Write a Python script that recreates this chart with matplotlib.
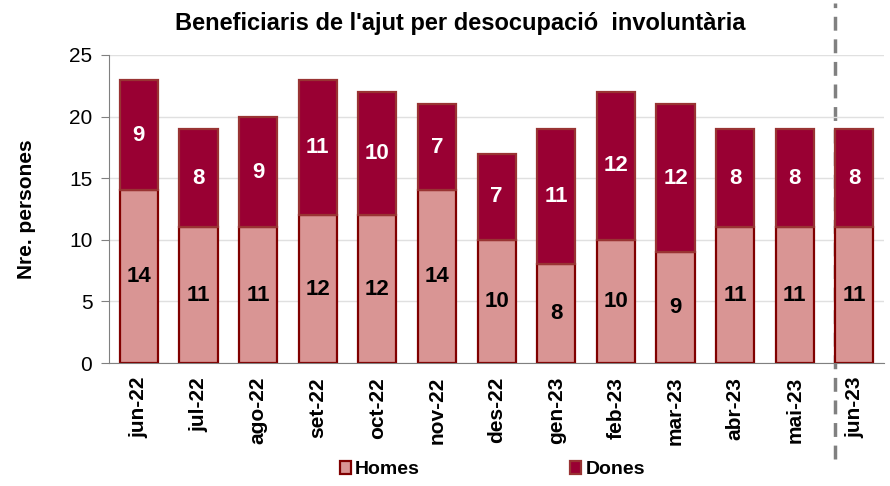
import numpy as np
import matplotlib.pyplot as plt
from matplotlib.lines import Line2D

months = ['jun-22', 'jul-22', 'ago-22', 'set-22', 'oct-22', 'nov-22', 'des-22',
          'gen-23', 'feb-23', 'mar-23', 'abr-23', 'mai-23', 'jun-23']
homes = [14, 11, 11, 12, 12, 14, 10, 8, 10, 9, 11, 11, 11]
dones = [9, 8, 9, 11, 10, 7, 7, 11, 12, 12, 8, 8, 8]

plt.rcParams['font.family'] = ['Liberation Sans', 'DejaVu Sans']

fig = plt.figure(figsize=(8.9, 4.86), dpi=100)
ax = fig.add_axes([0.1225, 0.253, 0.871, 0.634])

x = np.arange(len(months))
w = 0.64
ax.bar(x, homes, w, color='#D99594', edgecolor='#800000', linewidth=1.6,
       label='Homes', zorder=2)
ax.bar(x, dones, w, bottom=homes, color='#990033', edgecolor='#993333',
       linewidth=1.6, label='Dones', zorder=2)

for i in range(len(months)):
    ax.text(x[i], homes[i] / 2, str(homes[i]), ha='center', va='center',
            fontsize=16, fontweight='bold', color='black', zorder=3)
    ax.text(x[i], homes[i] + dones[i] / 2, str(dones[i]), ha='center',
            va='center', fontsize=16, fontweight='bold', color='white', zorder=3)

ax.set_xlim(-0.5, len(months) - 0.5)
ax.set_ylim(0, 25)
ax.set_yticks(range(0, 26, 5))
ax.yaxis.grid(True, color='#e0e0e0', linewidth=1, zorder=0)
ax.set_xticks(x)
ax.set_xticklabels(months, rotation=90, fontsize=15, fontweight='bold')
ax.tick_params(axis='y', labelsize=15, length=6, color='#808080', pad=6)
ax.tick_params(axis='x', length=0, pad=10)
for s in ['top', 'right']:
    ax.spines[s].set_visible(False)
ax.spines['left'].set_color('#808080')
ax.spines['bottom'].set_color('#808080')
ax.set_ylabel('Nre. persones', fontsize=15, fontweight='bold', labelpad=24)
ax.set_title("Beneficiaris de l'ajut per desocupació  involuntària",
             fontsize=17, fontweight='bold', pad=18, x=0.453)

# separator before the last month
ax.add_line(Line2D([11.68, 11.68], [-7.8, 29.2], color='#808080', linewidth=2.5,
                   linestyle=(0, (4, 2.5)), clip_on=False, zorder=1))

fig.legend(loc='center', bbox_to_anchor=(0.553, 0.033), ncol=2, frameon=False,
           prop={'weight': 'bold', 'size': 14}, columnspacing=7.7,
           handlelength=0.6, handleheight=0.6, handletextpad=0.2)

fig.savefig('out.png', dpi=100)
